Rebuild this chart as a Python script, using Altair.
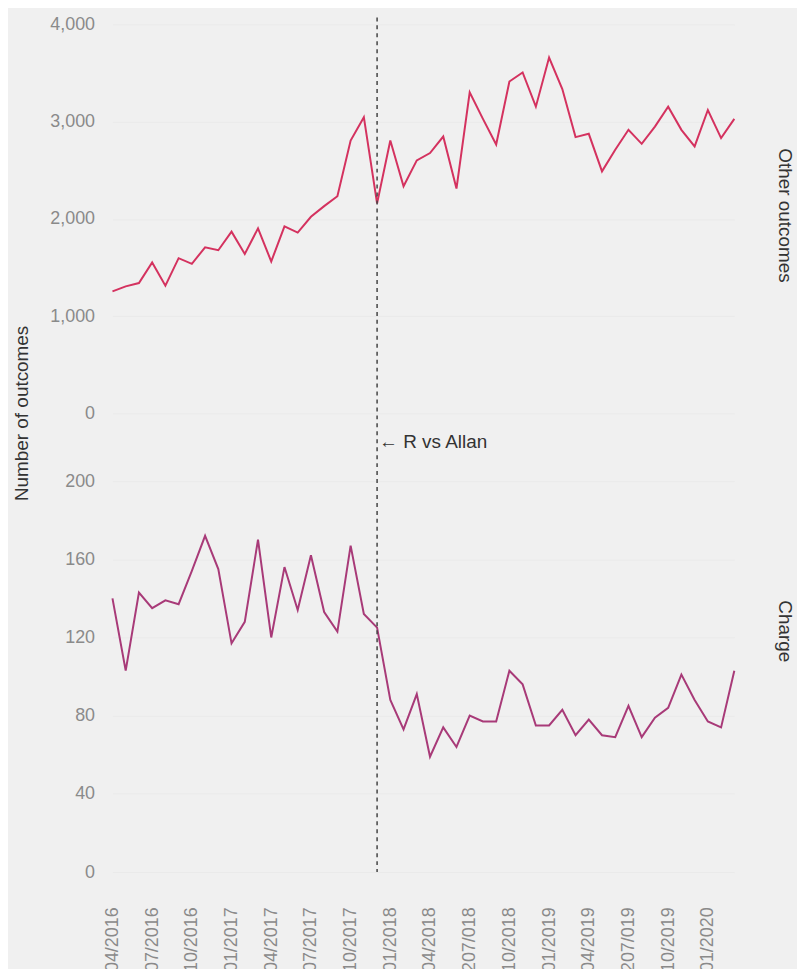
import altair as alt
import pandas as pd

# ---- data (monthly, 04/2016 .. 03/2020) ----
other_outcomes = [1255, 1306, 1340, 1552, 1313, 1596, 1538, 1708, 1678, 1869, 1640, 1903,
                  1562, 1923, 1859, 2022, 2131, 2233, 2806, 3046, 2160, 2806, 2336, 2602,
                  2677, 2847, 2312, 3301, 3028, 2765, 3413, 3506, 3154, 3659, 3335, 2841,
                  2875, 2489, 2711, 2916, 2772, 2949, 3154, 2916, 2745, 3120, 2831, 3028]
charge = [140, 103, 143, 135, 139, 137, 154, 172, 155, 117, 128, 170,
          120, 156, 134, 162, 133, 123, 167, 132, 125, 88, 73, 91,
          59, 74, 64, 80, 77, 77, 103, 96, 75, 75, 83, 70,
          78, 70, 69, 85, 69, 79, 84, 101, 88, 77, 74, 103]
tick_labels = ["04/2016", "07/2016", "10/2016", "01/2017", "04/2017", "07/2017",
               "10/2017", "01/2018", "04/2018", "207/018", "10/2018", "01/2019",
               "04/2019", "207/019", "10/2019", "01/2020"]
tick_step = 3
event_index = [20]
event_label = ["\u2190 R vs Allan"]
panel_titles = ["Other outcomes", "Charge"]
y_title = "Number of outcomes"
top_ticks = [0, 1000, 2000, 3000, 4000]
bottom_ticks = [0, 40, 80, 120, 160, 200]

FONT = "Liberation Sans"
LABEL_GRAY = "#8a8a8a"
TEXT_DARK = "#333333"
W = 625

df_top = pd.DataFrame({"idx": list(range(len(other_outcomes))), "value": other_outcomes})
df_bot = pd.DataFrame({"idx": list(range(len(charge))), "value": charge})
df_event = pd.DataFrame({"idx": event_index, "label": event_label})

label_array = "[" + ",".join("'" + s + "'" for s in tick_labels) + "]"
label_expr = label_array + "[round(datum.value / %d)]" % tick_step
x_scale = alt.Scale(domain=[0, len(other_outcomes) - 1], nice=False, zero=False)

y_axis_common = dict(labelColor=LABEL_GRAY, labelFontSize=18, labelFont=FONT,
                     labelPadding=18, ticks=False, domain=False, grid=True,
                     gridColor="#eaeaea", title=None, minExtent=64, maxExtent=64)

# ---- top panel ----
top_line = alt.Chart(df_top).mark_line(color="#d4325f", strokeWidth=2).encode(
    x=alt.X("idx:Q", scale=x_scale, axis=None),
    y=alt.Y("value:Q", scale=alt.Scale(domain=[-348, 4072], nice=False, zero=False),
            axis=alt.Axis(values=top_ticks, format=",d", **y_axis_common)),
)
top_rule = alt.Chart(df_event).mark_rule(color="#444444", strokeDash=[4, 4], strokeWidth=1.5).encode(
    x=alt.X("idx:Q", scale=x_scale, axis=None)
)
top_annot = alt.Chart(df_event).mark_text(
    align="left", baseline="middle", dx=2, font=FONT, fontSize=19, color=TEXT_DARK
).encode(x=alt.X("idx:Q", scale=x_scale, axis=None), y=alt.value(427), text="label:N")
top_side = alt.Chart(pd.DataFrame({"t": [panel_titles[0]]})).mark_text(
    angle=90, align="center", baseline="middle", font=FONT, fontSize=19, color=TEXT_DARK
).encode(x=alt.value(W + 51), y=alt.value(199), text="t:N")
left_title = alt.Chart(pd.DataFrame({"t": [y_title]})).mark_text(
    angle=270, align="center", baseline="middle", font=FONT, fontSize=19, color=TEXT_DARK
).encode(x=alt.value(-91), y=alt.value(398), text="t:N")

top = alt.layer(top_line, top_rule, top_annot, top_side, left_title).properties(width=W, height=432)

# ---- bottom panel ----
bot_line = alt.Chart(df_bot).mark_line(color="#a83a78", strokeWidth=2).encode(
    x=alt.X("idx:Q", scale=x_scale,
            axis=alt.Axis(values=list(range(0, len(tick_labels) * tick_step, tick_step)),
                          labelExpr=label_expr, labelAngle=270, labelAlign="right",
                          labelBaseline="middle", ticks=False, domain=False, grid=False,
                          labelPadding=35, labelColor=LABEL_GRAY, labelFontSize=18,
                          labelFont=FONT, title=None)),
    y=alt.Y("value:Q", scale=alt.Scale(domain=[0, 217.3], nice=False, zero=False),
            axis=alt.Axis(values=bottom_ticks, **y_axis_common)),
)
bot_rule = alt.Chart(df_event).mark_rule(color="#444444", strokeDash=[4, 4], strokeWidth=1.5).encode(
    x=alt.X("idx:Q", scale=x_scale)
)
bot_side = alt.Chart(pd.DataFrame({"t": [panel_titles[1]]})).mark_text(
    angle=90, align="center", baseline="middle", font=FONT, fontSize=19, color=TEXT_DARK
).encode(x=alt.value(W + 51), y=alt.value(185), text="t:N")

bottom = alt.layer(bot_line, bot_rule, bot_side).properties(width=W, height=427)

chart = alt.vconcat(top, bottom, spacing=0, bounds="flush").configure(
    background="#f0f0f0", padding={"left": 5, "top": 5, "right": 3, "bottom": 0}
).configure_view(stroke=None)

chart.save("out.html", embed_options={"renderer": "svg", "actions": False})
